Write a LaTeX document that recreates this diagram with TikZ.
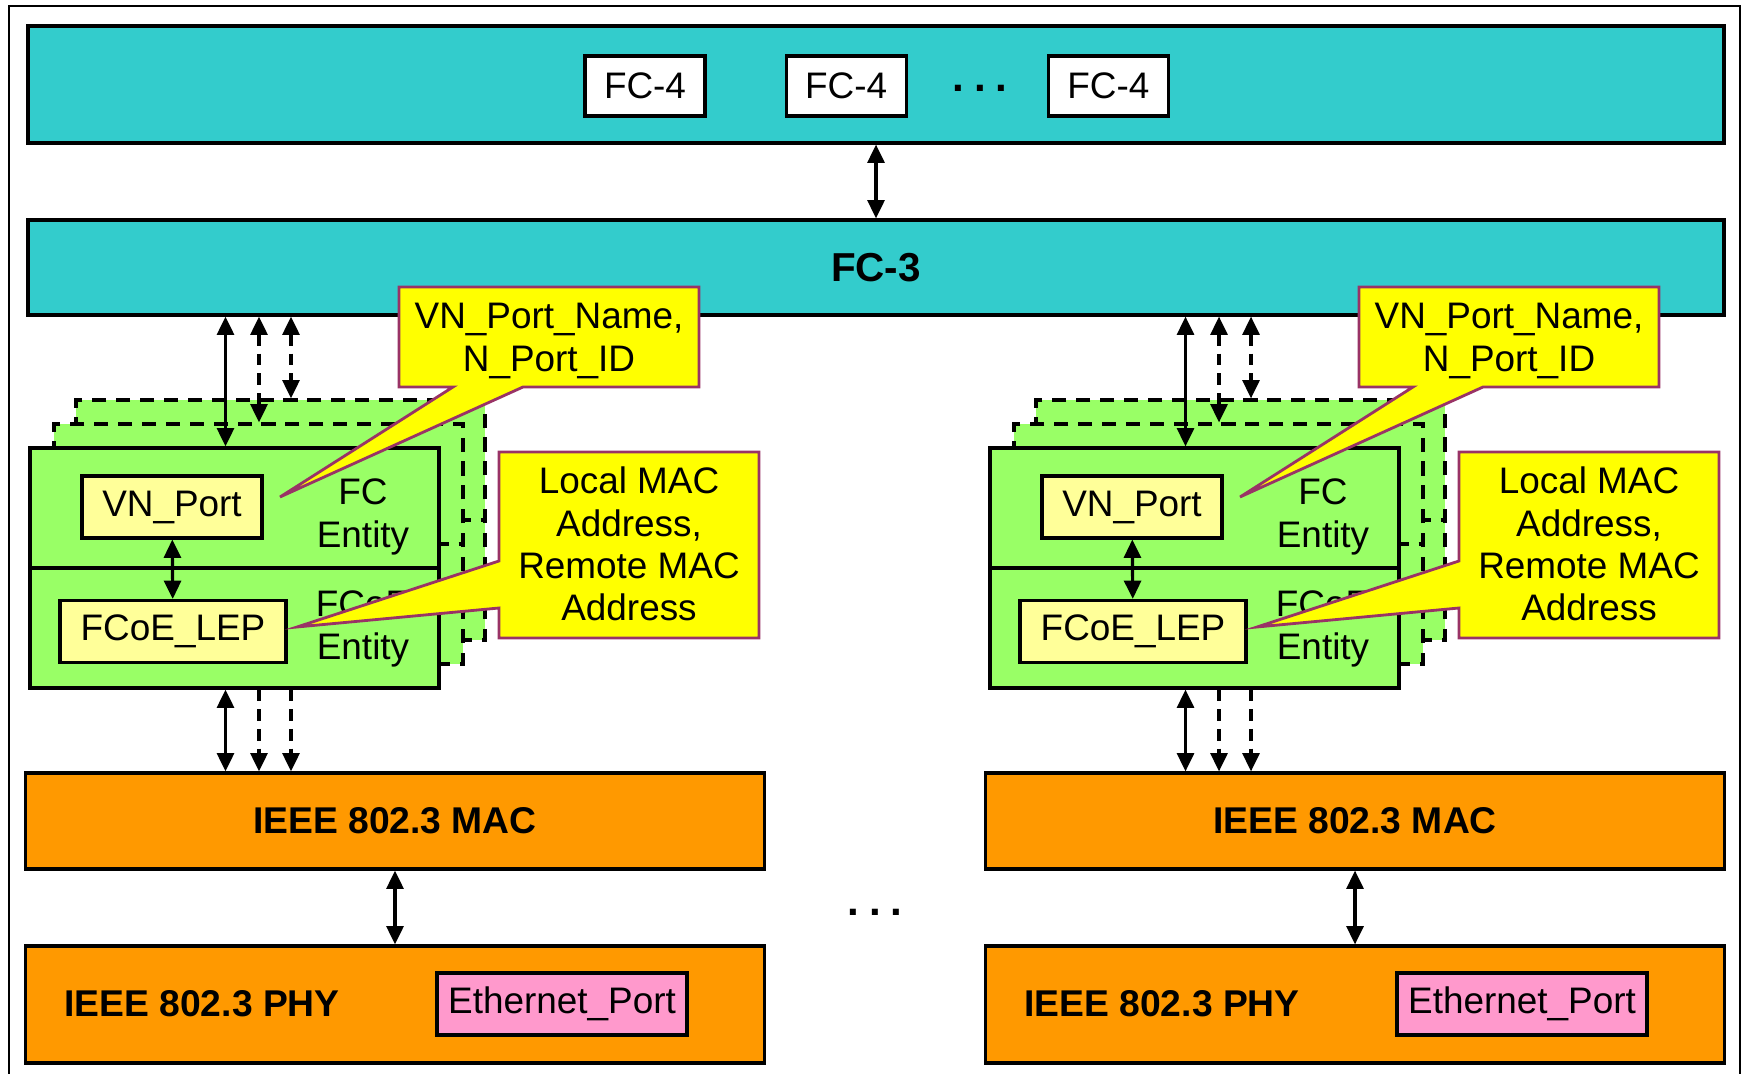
\documentclass[tikz,border=0pt]{standalone}
\usepackage{fontspec}
\setmainfont{Liberation Sans}
\usetikzlibrary{arrows.meta,positioning}

\definecolor{fcteal}{HTML}{33CCCC}
\definecolor{entgreen}{HTML}{99FF66}
\definecolor{portyellow}{HTML}{FFFF99}
\definecolor{noteyellow}{HTML}{FFFF00}
\definecolor{noteline}{HTML}{993366}
\definecolor{macorange}{HTML}{FF9900}
\definecolor{ethpink}{HTML}{FF99CC}

\tikzset{
  layer/.style={draw, line width=0.9pt, inner sep=0pt},
  band/.style={layer, fill=fcteal, minimum width=16.96cm},
  fcbox/.style={layer, fill=white, minimum width=1.2cm, minimum height=0.6cm},
  entbox/.style={layer, fill=entgreen, minimum width=4.09cm, minimum height=2.4cm},
  backbox/.style={entbox, dash pattern=on 4pt off 2.8pt},
  portbox/.style={layer, fill=portyellow, minimum height=0.62cm},
  macbox/.style={layer, fill=macorange, minimum width=7.39cm,
    font=\bfseries\fontsize{10.6}{12}\selectfont},
  ethbox/.style={layer, fill=ethpink, minimum width=2.5cm, minimum height=0.62cm},
  note/.style={draw=noteline, fill=noteyellow, line width=0.8pt},
  notetext/.style={align=center, inner sep=0pt},
  link/.style={line width=0.9pt},
  dlink/.style={line width=0.9pt, dash pattern=on 3.3pt off 2.3pt},
}

\begin{document}
\begin{tikzpicture}[x=0.1mm, y=-0.1mm, font=\fontsize{10.5}{12}\selectfont,
    >={Triangle[length=5.2pt,width=4.8pt]}]
  \useasboundingbox (0,0) rectangle (1746,1074);
  \draw[line width=0.7pt] (9,6) rectangle (1740,1100);

  % FC-4 and FC-3
  \node[band, minimum height=1.17cm] (fcfour) at (876,84.5) {};
  \node[fcbox] (fcfa) at (645,86) {FC-4};
  \node[fcbox, right=0.78cm of fcfa] (fcfb) {FC-4};
  \node[fcbox, right=1.39cm of fcfb] (fcfc) {FC-4};
  \node[anchor=base, font=\bfseries\fontsize{12}{12}\selectfont] (fcdots) at (980,92)
    {.\hspace{2.8pt}.\hspace{2.8pt}.};
  \node[band, minimum height=0.95cm, font=\bfseries\fontsize{11.5}{12}\selectfont]
    (fcthree) at (876,267.5) {FC-3};
  \draw[link, <->] (fcfour) -- (fcthree);

  \foreach \x/\side in {0/l, 960/r} {
    % stacked FC entities
    \node[backbox] (entc\side) at (\x+280.5,520) {};
    \draw[dash pattern=on 4pt off 2.8pt, line width=0.9pt] (entc\side.west) -- (entc\side.east);
    \node[backbox] (entb\side) at (\x+258.5,544) {};
    \draw[dash pattern=on 4pt off 2.8pt, line width=0.9pt] (entb\side.west) -- (entb\side.east);
    \node[entbox] (ent\side) at (\x+234.5,568) {};
    \draw[line width=0.9pt] (ent\side.west) -- (ent\side.east);

    \node[portbox, minimum width=1.8cm] (vn\side) at (\x+172,507) {VN\_Port};
    \node[portbox, minimum width=2.26cm] (lep\side) at (\x+173,631.5) {FCoE\_LEP};
    \draw[link, <->] (vn\side) -- (lep\side);
    \node[notetext] (fcent\side) at (\x+363,517) {FC\\Entity};
    \node[notetext] (fcoeent\side) at (\x+363,629) {FCoE\\Entity};

    \coordinate (a\side) at (\x+225.5,0);
    \coordinate (b\side) at (\x+259,0);
    \coordinate (c\side) at (\x+291,0);
    \draw[link, <->] (fcthree.south -| a\side) -- (ent\side.north -| a\side);
    \draw[dlink, <->] (fcthree.south -| b\side) -- (entb\side.north -| b\side);
    \draw[dlink, <->] (fcthree.south -| c\side) -- (entc\side.north -| c\side);

    % Ethernet layers
    \node[macbox, minimum height=0.96cm] (mac\side) at (\x+395,821) {IEEE 802.3 MAC};
    \node[macbox, minimum height=1.17cm] (phy\side) at (\x+395,1004.5) {};
    \node[ethbox] (eth\side) at (\x+562,1004) {Ethernet\_Port};
    \node[font=\bfseries\fontsize{10.6}{12}\selectfont, inner sep=0pt, left=0.95cm of eth\side]
      (phytext\side) {IEEE 802.3 PHY};
    \draw[link, <->] (ent\side.south -| a\side) -- (mac\side.north -| a\side);
    \draw[dlink, ->] (ent\side.south -| b\side) -- (mac\side.north -| b\side);
    \draw[dlink, ->] (ent\side.south -| c\side) -- (mac\side.north -| c\side);
    \draw[link, <->] (mac\side) -- (phy\side);

    % callouts
    \draw[note] (\x+399,287) -- (\x+699,287) -- (\x+699,387) -- (\x+523,387)
      -- (\x+280,497) -- (\x+453,387) -- (\x+399,387) -- cycle;
    \node[notetext] (vnname\side) at (\x+549,341) {VN\_Port\_Name,\\N\_Port\_ID};
    \draw[note] (\x+499,452) -- (\x+759,452) -- (\x+759,638) -- (\x+499,638)
      -- (\x+499,608) -- (\x+297,627) -- (\x+499,561) -- cycle;
    \node[notetext] (macaddr\side) at (\x+629,544)
      {Local MAC\\Address,\\Remote MAC\\Address};
  }

  \node[anchor=base, font=\bfseries\fontsize{12}{12}\selectfont] (middots) at (875,915)
    {.\hspace{2.8pt}.\hspace{2.8pt}.};
\end{tikzpicture}
\end{document}
